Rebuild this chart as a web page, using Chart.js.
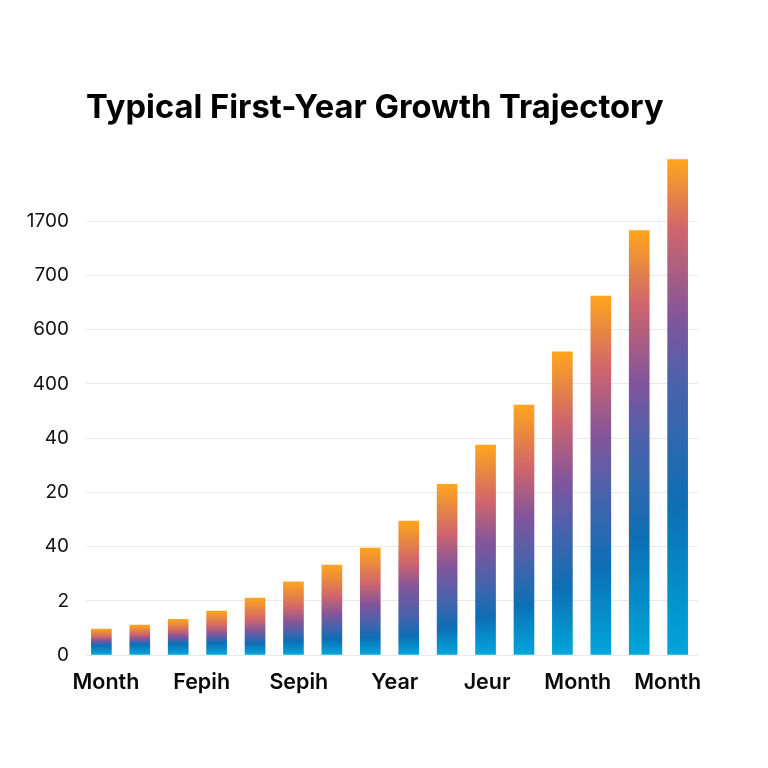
<!DOCTYPE html>
<html>
<head>
<meta charset="utf-8">
<title>Typical First-Year Growth Trajectory</title>
<script src="https://cdn.jsdelivr.net/npm/chart.js@4"></script>
<style>
  html, body { margin: 0; padding: 0; background: #ffffff; }
  canvas { display: block; }
</style>
</head>
<body>
<canvas id="growthChart" width="768" height="768"></canvas>
<script>
// data (heights are in axis steps, the tick labels are not evenly valued)
const periods = [1, 2, 3, 4, 5, 6, 7, 8, 9, 10, 11, 12, 13, 14, 15, 16];
const heights = [0.48, 0.55, 0.66, 0.81, 1.05, 1.35, 1.66, 1.97, 2.47, 3.15, 3.87, 4.61, 5.59, 6.62, 7.83, 9.14];
const yTickLabels = ['0', '2', '40', '20', '40', '400', '600', '700', '1700'];
const xTickLabels = ['Month', 'Fepih', 'Sepih', 'Year', 'Jeur', 'Month', 'Month'];
const xTickAt = [1.12, 3.61, 6.14, 8.64, 11.04, 13.4, 15.74];

const FONT = 'Inter, "Liberation Sans", sans-serif';

// gradient stops shift with bar height: short bars squeeze the blue, tall ones stretch it
const stopHeights = [26, 57, 134, 250, 496];
const stopTable = [
    { color: '#0d6fb4', at: [0.38, 0.2, 0.14, 0.2, 0.3] },
    { color: '#4a62ab', at: [0.47, 0.32, 0.3, 0.38, 0.55] },
    { color: '#82559b', at: [0.55, 0.42, 0.5, 0.55, 0.68] },
    { color: '#d0656c', at: [0.7, 0.62, 0.7, 0.75, 0.86] }
];

const stopAt = (at, h) => {
    let i = 0;
    while (i < stopHeights.length - 2 && h > stopHeights[i + 1]) i++;
    const t = (h - stopHeights[i]) / (stopHeights[i + 1] - stopHeights[i]);
    return at[i] + (at[i + 1] - at[i]) * Math.min(1, Math.max(0, t));
};

// each bar gets its own gradient from base to top
const barGradient = (ctx) => {
    const chart = ctx.chart;
    if (!chart.chartArea || !ctx.parsed) return '#0b6fb5';
    const base = chart.scales.y.getPixelForValue(0);
    const top = chart.scales.y.getPixelForValue(ctx.parsed.y);
    const g = chart.ctx.createLinearGradient(0, base, 0, top);
    g.addColorStop(0, '#00a6dc');
    stopTable.forEach((s) => g.addColorStop(stopAt(s.at, base - top), s.color));
    g.addColorStop(1, '#ffa51c');
    return g;
};

new Chart(document.getElementById('growthChart').getContext('2d'), {
    type: 'bar',
    data: {
        datasets: [{
            data: periods.map((p, i) => ({ x: p, y: heights[i] })),
            backgroundColor: barGradient,
            borderWidth: 0,
            barThickness: 20
        }]
    },
    options: {
        responsive: false,
        animation: false,
        layout: { padding: { top: 0, right: 70, bottom: 0, left: 0 } },
        plugins: {
            legend: { display: false },
            title: {
                display: true,
                fullSize: false,
                text: 'Typical First-Year Growth Trajectory',
                align: 'start',
                color: '#000000',
                font: { family: FONT, size: 32.7, weight: 'bold' },
                padding: { top: 89, bottom: 28 }
            }
        },
        scales: {
            x: {
                type: 'linear',
                offset: false,
                min: 0.6,
                max: 16.53,
                grid: { display: false },
                border: { display: false },
                afterBuildTicks: (axis) => { axis.ticks = xTickAt.map((v) => ({ value: v })); },
                afterFit: (axis) => { axis.height = 113; },
                ticks: {
                    autoSkip: false,
                    maxRotation: 0,
                    padding: 7,
                    color: '#0a0a0a',
                    font: { family: FONT, size: 21.5, weight: '600' },
                    callback: (value, index) => xTickLabels[index]
                }
            },
            y: {
                min: 0,
                max: 9.2,
                grid: { color: '#e9e9e9', lineWidth: 1, drawTicks: false },
                border: { display: false },
                afterBuildTicks: (axis) => { axis.ticks = yTickLabels.map((t, i) => ({ value: i })); },
                afterFit: (axis) => { axis.width = 86; },
                ticks: {
                    padding: 17,
                    color: '#111111',
                    font: { family: FONT, size: 19 },
                    callback: (value, index) => yTickLabels[index]
                }
            }
        }
    }
});
</script>
</body>
</html>
